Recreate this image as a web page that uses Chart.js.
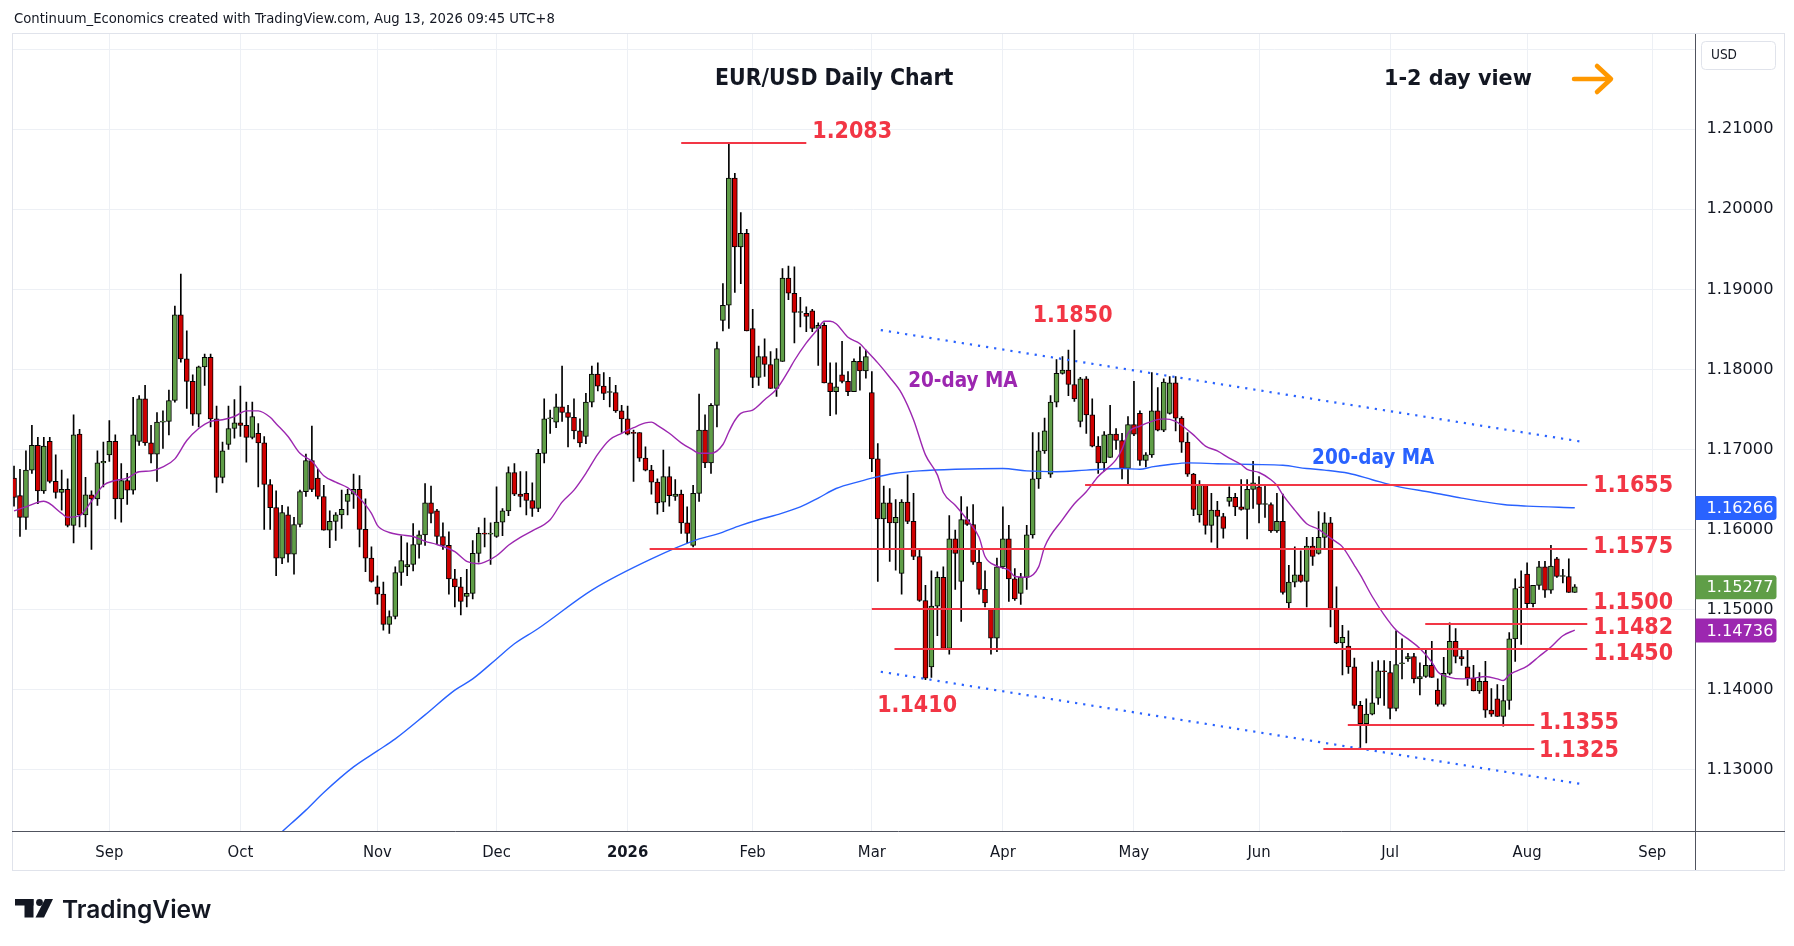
<!DOCTYPE html>
<html><head><meta charset="utf-8">
<script src="https://cdn.jsdelivr.net/npm/chart.js@4.4.1/dist/chart.umd.min.js"></script>
<style>html,body{margin:0;padding:0;background:#fff;overflow:hidden}#wrap{width:1794px;height:946px;position:relative}canvas{display:block}</style>
</head><body><div id="wrap"><canvas id="c" width="1794" height="946"></canvas></div>
<script>
// ---------- DATA ----------
const startDate = '2025-08-08';
const endDate = '2026-09-10';
const holidays = ['2025-12-25', '2026-01-01'];

const opens = [1.1664,1.1642,1.1615,1.1674,1.1705,1.1648,1.1710,1.1660,1.1646,1.1650,1.1605,1.1719,1.1618,1.1643,1.1638,1.1683,
1.1693,1.1710,1.1638,1.1661,1.1649,1.1710,1.1763,1.1708,1.1694,1.1734,1.1735,1.1761,1.1868,1.1813,1.1785,1.1744,1.1803,1.1815,1.1738,1.1665,1.1706,1.1726,
1.1733,1.1730,1.1715,1.1720,1.1708,1.1656,1.1627,1.1564,1.1618,1.1569,1.1606,1.1647,1.1686,1.1664,1.1641,1.1599,1.1610,1.1618,1.1635,1.1644,1.1650,1.1600,1.1564,
1.1528,1.1519,1.1481,1.1491,1.1546,1.1553,1.1556,1.1581,1.1593,1.1633,1.1623,1.1591,1.1580,1.1538,1.1528,1.1516,1.1520,1.1570,1.1595,1.1594,
1.1591,1.1609,1.1623,1.1671,1.1644,1.1645,1.1636,1.1626,1.1695,1.1738,1.1734,1.1753,1.1746,1.1740,1.1723,1.1716,1.1759,1.1794,1.1779,1.1771,1.1771,1.1748,
1.1738,1.1721,1.1721,1.1689,1.1674,1.1659,1.1634,1.1666,1.1641,1.1644,1.1608,1.1580,1.1645,1.1724,1.1683,1.1755,1.1861,1.1880,1.2039,1.1953,1.1970,
1.1851,1.1790,1.1816,1.1806,1.1776,1.1810,1.1914,1.1895,1.1871,1.1870,1.1873,1.1851,1.1855,1.1783,1.1772,1.1793,1.1785,1.1772,1.1810,1.1798,
1.1771,1.1688,1.1613,1.1633,1.1608,1.1545,1.1634,1.1610,1.1566,1.1511,1.1428,1.1504,1.1540,1.1451,1.1588,1.1535,1.1612,1.1606,1.1559,1.1525,1.1500,1.1464,
1.1553,1.1588,1.1538,1.1520,1.1540,1.1593,1.1663,1.1698,1.1669,1.1759,1.1795,1.1799,1.1781,1.1735,1.1788,1.1743,1.1704,1.1683,1.1690,1.1719,1.1711,1.1676,
1.1731,1.1745,1.1686,1.1693,1.1748,1.1724,1.1745,1.1783,1.1739,1.1709,1.1669,1.1618,1.1656,1.1605,1.1624,1.1616,1.1635,1.1640,1.1628,1.1625,1.1650,
1.1653,1.1631,1.1631,1.1598,1.1610,1.1508,1.1534,1.1543,1.1535,1.1579,1.1570,1.1590,1.1608,1.1501,1.1458,1.1454,1.1428,1.1380,1.1357,1.1369,1.1389,1.1423,
1.1421,1.1376,1.1432,1.1438,1.1441,1.1413,1.1416,1.1430,1.1399,1.1381,1.1420,1.1460,1.1441,1.1428,1.1414,1.1398,1.1410,1.1374,1.1388,1.1366,1.1386,1.1463,1.1528,
1.1544,1.1507,1.1530,1.1553,1.1524,1.1563,1.1541,1.1541,1.1521];
const highs = [1.1679,1.1675,1.1698,1.1730,1.1715,1.1715,1.1715,1.1693,1.1674,1.1663,1.1743,1.1725,1.1665,1.1648,1.1698,1.1709,
1.1736,1.1718,1.1682,1.1670,1.1765,1.1767,1.1780,1.1730,1.1746,1.1748,1.1774,1.1879,1.1919,1.1848,1.1793,1.1804,1.1819,1.1819,1.1754,1.1709,1.1754,1.1762,
1.1779,1.1759,1.1759,1.1732,1.1716,1.1662,1.1648,1.1630,1.1628,1.1615,1.1649,1.1694,1.1729,1.1675,1.1655,1.1623,1.1621,1.1649,1.1650,1.1669,1.1667,1.1638,1.1578,
1.1542,1.1534,1.1498,1.1553,1.1592,1.1583,1.1607,1.1598,1.1657,1.1654,1.1625,1.1608,1.1597,1.1550,1.1540,1.1550,1.1586,1.1602,1.1614,1.1608,
1.1653,1.1626,1.1678,1.1682,1.1672,1.1672,1.1658,1.1700,1.1763,1.1749,1.1769,1.1804,1.1755,1.1763,1.1738,1.1770,1.1804,1.1808,1.1796,1.1790,1.1780,1.1755,
1.1754,1.1724,1.1721,1.1703,1.1680,1.1663,1.1699,1.1678,1.1662,1.1649,1.1628,1.1655,1.1769,1.1743,1.1757,1.1834,1.1907,1.2083,1.2045,1.1996,1.1975,
1.1875,1.1829,1.1838,1.1822,1.1826,1.1926,1.1929,1.1928,1.1890,1.1878,1.1875,1.1858,1.1858,1.1808,1.1808,1.1835,1.1797,1.1813,1.1828,1.1824,
1.1797,1.1707,1.1654,1.1651,1.1637,1.1637,1.1668,1.1645,1.1574,1.1530,1.1548,1.1547,1.1553,1.1617,1.1599,1.1641,1.1628,1.1631,1.1574,1.1548,1.1500,1.1564,
1.1628,1.1605,1.1551,1.1545,1.1605,1.1721,1.1721,1.1739,1.1767,1.1812,1.1816,1.1824,1.1849,1.1790,1.1791,1.1763,1.1716,1.1722,1.1755,1.1726,1.1720,
1.1741,1.1785,1.1748,1.1696,1.1796,1.1777,1.1788,1.1791,1.1791,1.1741,1.1721,1.1670,1.1661,1.1656,1.1645,1.1635,1.1620,1.1653,1.1645,1.1662,1.1662,1.1685,
1.1666,1.1655,1.1633,1.1645,1.1644,1.1555,1.1578,1.1573,1.1590,1.1590,1.1622,1.1621,1.1615,1.1528,1.1480,1.1473,1.1439,1.1385,1.1388,1.1434,1.1436,1.1436,
1.1435,1.1473,1.1463,1.1445,1.1445,1.1433,1.1449,1.1460,1.1413,1.1440,1.1483,1.1476,1.1450,1.1449,1.1430,1.1421,1.1435,1.1401,1.1406,1.1405,1.1471,1.1538,1.1548,
1.1558,1.1530,1.1560,1.1560,1.1580,1.1565,1.1550,1.1563,1.1531];
const lows = [1.1629,1.1591,1.1600,1.1670,1.1632,1.1645,1.1658,1.1639,1.1624,1.1603,1.1583,1.1603,1.1603,1.1575,1.1630,1.1653,
1.1685,1.1613,1.1609,1.1631,1.1644,1.1705,1.1705,1.1683,1.1660,1.1701,1.1718,1.1759,1.1809,1.1751,1.1730,1.1728,1.1780,1.1728,1.1646,1.1658,1.1700,1.1714,
1.1716,1.1684,1.1713,1.1653,1.1600,1.1600,1.1542,1.1557,1.1559,1.1544,1.1603,1.1641,1.1647,1.1638,1.1599,1.1577,1.1586,1.1601,1.1618,1.1626,1.1578,1.1547,1.1534,
1.1506,1.1474,1.1470,1.1488,1.1530,1.1542,1.1548,1.1564,1.1580,1.1608,1.1581,1.1575,1.1519,1.1503,1.1493,1.1503,1.1513,1.1559,1.1578,1.1556,
1.1590,1.1592,1.1617,1.1642,1.1628,1.1618,1.1616,1.1622,1.1683,1.1720,1.1727,1.1735,1.1703,1.1713,1.1703,1.1707,1.1753,1.1773,1.1762,1.1753,1.1746,1.1721,
1.1718,1.1660,1.1685,1.1673,1.1644,1.1619,1.1622,1.1629,1.1636,1.1595,1.1583,1.1578,1.1635,1.1677,1.1670,1.1728,1.1848,1.1851,1.1896,1.1907,1.1848,
1.1777,1.1780,1.1791,1.1776,1.1766,1.1810,1.1887,1.1833,1.1853,1.1847,1.1847,1.1805,1.1783,1.1742,1.1744,1.1783,1.1767,1.1772,1.1774,1.1789,
1.1672,1.1535,1.1576,1.1560,1.1549,1.1519,1.1607,1.1562,1.1510,1.1412,1.1415,1.1467,1.1451,1.1444,1.1525,1.1485,1.1605,1.1556,1.1519,1.1503,1.1444,1.1447,
1.1551,1.1510,1.1511,1.1506,1.1525,1.1589,1.1651,1.1695,1.1665,1.1753,1.1794,1.1767,1.1760,1.1728,1.1720,1.1703,1.1670,1.1673,1.1690,1.1700,1.1663,
1.1656,1.1717,1.1680,1.1678,1.1690,1.1723,1.1722,1.1744,1.1723,1.1696,1.1666,1.1617,1.1609,1.1594,1.1584,1.1577,1.1589,1.1629,1.1617,1.1624,1.1588,1.1626,
1.1608,1.1615,1.1596,1.1596,1.1519,1.1501,1.1528,1.1534,1.1503,1.1555,1.1569,1.1576,1.1478,1.1457,1.1418,1.1420,1.1376,1.1325,1.1333,1.1368,1.1381,1.1380,
1.1363,1.1373,1.1413,1.1435,1.1408,1.1393,1.1415,1.1415,1.1379,1.1379,1.1418,1.1433,1.1430,1.1405,1.1398,1.1395,1.1365,1.1366,1.1366,1.1354,1.1375,1.1435,1.1456,
1.1500,1.1503,1.1525,1.1515,1.1520,1.1540,1.1533,1.1521,1.1521];
const closes = [1.1640,1.1615,1.1674,1.1705,1.1648,1.1704,1.1660,1.1646,1.1650,1.1605,1.1718,1.1618,1.1643,1.1638,1.1683,1.1685,
1.1710,1.1638,1.1661,1.1649,1.1718,1.1763,1.1708,1.1694,1.1734,1.1735,1.1761,1.1868,1.1813,1.1785,1.1744,1.1803,1.1815,1.1738,1.1665,1.1698,1.1726,1.1733,
1.1730,1.1715,1.1741,1.1708,1.1656,1.1627,1.1564,1.1621,1.1569,1.1606,1.1647,1.1686,1.1650,1.1641,1.1599,1.1610,1.1618,1.1625,1.1644,1.1650,1.1600,1.1564,1.1535,
1.1519,1.1481,1.1491,1.1546,1.1561,1.1556,1.1581,1.1593,1.1633,1.1620,1.1591,1.1580,1.1538,1.1528,1.1510,1.1520,1.1570,1.1595,1.1594,1.1595,
1.1609,1.1623,1.1671,1.1644,1.1641,1.1636,1.1626,1.1695,1.1738,1.1738,1.1753,1.1746,1.1740,1.1723,1.1708,1.1759,1.1794,1.1779,1.1770,1.1771,1.1748,1.1738,
1.1719,1.1720,1.1689,1.1674,1.1659,1.1633,1.1666,1.1642,1.1644,1.1608,1.1595,1.1645,1.1724,1.1683,1.1755,1.1826,1.1880,1.2039,1.1953,1.1970,1.1848,
1.1790,1.1816,1.1806,1.1776,1.1813,1.1914,1.1895,1.1871,1.1871,1.1866,1.1851,1.1855,1.1783,1.1772,1.1778,1.1785,1.1772,1.1810,1.1798,1.1816,
1.1688,1.1613,1.1633,1.1608,1.1615,1.1634,1.1610,1.1566,1.1511,1.1414,1.1504,1.1540,1.1451,1.1588,1.1570,1.1612,1.1606,1.1559,1.1525,1.1508,1.1464,1.1553,
1.1588,1.1538,1.1513,1.1540,1.1593,1.1663,1.1698,1.1723,1.1759,1.1795,1.1799,1.1781,1.1763,1.1788,1.1743,1.1704,1.1683,1.1718,1.1719,1.1711,1.1676,
1.1731,1.1719,1.1686,1.1693,1.1748,1.1724,1.1784,1.1783,1.1739,1.1709,1.1669,1.1625,1.1656,1.1605,1.1624,1.1616,1.1601,1.1640,1.1628,1.1625,1.1650,1.1658,
1.1631,1.1631,1.1598,1.1610,1.1521,1.1534,1.1543,1.1535,1.1579,1.1566,1.1590,1.1608,1.1501,1.1458,1.1465,1.1428,1.1380,1.1357,1.1369,1.1383,1.1423,1.1422,
1.1376,1.1431,1.1432,1.1441,1.1413,1.1416,1.1430,1.1415,1.1381,1.1420,1.1460,1.1441,1.1438,1.1414,1.1398,1.1410,1.1374,1.1369,1.1366,1.1386,1.1463,1.1526,1.1527,
1.1507,1.1530,1.1553,1.1524,1.1554,1.1541,1.1541,1.1521,1.1528];

// moving averages: [bar index, value]
const ma20Points = [[0,1.1623],[2,1.1628],[5,1.1635],[8,1.1620],[9,1.1615],[11,1.1617],[13,1.1635],[15,1.1655],[17,1.1661],[19,1.1664],[21,1.1672],[23,1.1673],
[25,1.1678],[27,1.1688],[29,1.1711],[31,1.1726],[33,1.1735],[35,1.1737],[37,1.1741],[39,1.1748],[41,1.1748],[43,1.1740],[44,1.1732],[46,1.1716],[48,1.1695],
[50,1.1685],[52,1.1667],[54,1.1659],[56,1.1652],[58,1.1639],[60,1.1620],[61,1.1605],[63,1.1596],[65,1.1593],[67,1.1591],[69,1.1585],[71,1.1581],[74,1.1572],
[76,1.1560],[78,1.1557],[79,1.1559],[81,1.1567],[83,1.1580],[85,1.1590],[87,1.1598],[90,1.1612],[92,1.1634],[94,1.1649],[96,1.1670],[98,1.1694],[100,1.1712],
[102,1.1720],[104,1.1727],[106,1.1733],[107,1.1734],[108,1.1730],[110,1.1720],[112,1.1708],[114,1.1699],[115,1.1695],[117,1.1695],[119,1.1706],[120,1.1722],
[121,1.1736],[122,1.1745],[124,1.1749],[126,1.1762],[128,1.1775],[130,1.1798],[131,1.1811],[133,1.1833],[135,1.1851],[136,1.1860],[137,1.1860],[138,1.1857],
[140,1.1840],[142,1.1832],[143,1.1824],[145,1.1808],[147,1.1790],[149,1.1770],[151,1.1737],[153,1.1693],[155,1.1668],[156,1.1646],[158,1.1630],[160,1.1612],
[162,1.1590],[163,1.1566],[165,1.1554],[167,1.1549],[168,1.1541],[170,1.1540],[172,1.1553],[173,1.1578],[176,1.1612],[178,1.1632],[180,1.1647],[182,1.1666],
[185,1.1687],[186,1.1700],[187,1.1720],[189,1.1729],[191,1.1735],[193,1.1738],[195,1.1735],[196,1.1730],[198,1.1718],[200,1.1704],[202,1.1698],[204,1.1689],
[206,1.1681],[207,1.1675],[209,1.1671],[211,1.1662],[212,1.1655],[213,1.1643],[215,1.1624],[217,1.1607],[219,1.1600],[221,1.1589],[222,1.1584],[223,1.1578],
[225,1.1555],[226,1.1543],[228,1.1516],[230,1.1493],[232,1.1474],[234,1.1463],[236,1.1451],[238,1.1434],[239,1.1422],[241,1.1415],[243,1.1413],[245,1.1414],
[247,1.1416],[249,1.1413],[250,1.1411],[251,1.1418],[252,1.1422],[254,1.1429],[256,1.1441],[258,1.1453],[260,1.1467],[262,1.1474]];
const ma200Points = [[45,1.1222],[49,1.1249],[52,1.1271],[57,1.1303],[61,1.1323],[64,1.1338],[69,1.1368],[74,1.1399],[77,1.1413],[81,1.1438],[84,1.1457],
[88,1.1476],[97,1.1524],[107,1.1563],[115,1.1588],[118,1.1594],[122,1.1605],[125,1.1612],[128,1.1618],[132,1.1628],[135,1.1639],[138,1.1651],[142,1.1660],
[144,1.1664],[148,1.1670],[152,1.1673],[158,1.1675],[166,1.1676],[170,1.1673],[175,1.1672],[180,1.1674],[186,1.1676],[189,1.1675],[191,1.1678],[194,1.1681],
[197,1.1683],[202,1.1682],[208,1.1681],[213,1.1680],[217,1.1676],[220,1.1674],[224,1.1670],[228,1.1662],[232,1.1654],[238,1.1646],[243,1.1639],[250,1.1631],
[254,1.1629],[262,1.1627]];

// channel lines: [bar index, price]
const channelUpper = [[145.5,1.1849],[263.6,1.1709]];
const channelLower = [[145.5,1.1422],[263.6,1.1281]];

// key levels (price, from bar, to bar)
const levelPrices = [1.2083,1.1655,1.1575,1.1500,1.1482,1.1450,1.1355,1.1325];
const levelFrom   = [112,179.8,106.7,144,236.9,147.8,223.9,219.8];
const levelTo     = [133,264.1,264.1,264.1,264.1,264.1,255.2,255.2];
// level labels: text, bar index, baseline price
const labelTexts  = ['1.2083','1.1850','1.1410','1.1655','1.1575','1.1500','1.1482','1.1450','1.1355','1.1325'];
const labelBars   = [134.0,171.0,144.9,265.1,265.1,265.1,265.1,265.1,256.0,256.0];
const labelPrices = [1.20895,1.18589,1.13714,1.16462,1.15704,1.15004,1.14688,1.14363,1.13508,1.13154];

// axis ticks
const monthTickDates  = ['2025-09-01','2025-10-01','2025-11-03','2025-12-01','2026-01-02','2026-02-02','2026-03-02','2026-04-01','2026-05-01','2026-06-01','2026-07-01','2026-08-03','2026-09-01'];
const monthTickLabels = ['Sep','Oct','Nov','Dec','2026','Feb','Mar','Apr','May','Jun','Jul','Aug','Sep'];
const priceTicks = [1.13,1.14,1.15,1.16,1.17,1.18,1.19,1.20,1.21,1.22];
// price tags on the axis
const tagValues = [1.16266,1.15277,1.14736];
const tagColors = ['#2962ff','#5f9e47','#9c27b0'];

// ---------- BUILD ----------
const dates = [];
(function(){
  const d = new Date(startDate + 'T00:00:00Z'), end = new Date(endDate + 'T00:00:00Z');
  while (d <= end) {
    const s = d.toISOString().slice(0,10), wd = d.getUTCDay();
    if (wd !== 0 && wd !== 6 && holidays.indexOf(s) < 0) dates.push(s);
    d.setUTCDate(d.getUTCDate() + 1);
  }
})();
const monthTickIdx = monthTickDates.map(s => dates.indexOf(s));

const GREEN = '#5f9e47', RED = '#d00000';
const wickData = lows.map((l,i) => ({x:i, y:[l, highs[i]]}));
const bodyData = opens.map((o,i) => ({x:i, y:[o, closes[i]]}));
const bodyColors = opens.map((o,i) => closes[i] >= o ? GREEN : RED);

const COND = '"DejaVu Sans Condensed","DejaVu Sans",sans-serif';
const WIDE = '"DejaVu Sans",sans-serif';

const overlay = {
  id: 'overlay',
  beforeDraw(chart) {
    const c = chart.ctx;
    c.save(); c.fillStyle = '#fff'; c.fillRect(0,0,chart.width,chart.height); c.restore();
  },
  afterDatasetsDraw(chart) {
    const c = chart.ctx, xs = chart.scales.x, ys = chart.scales.y;
    c.save();
    c.strokeStyle = '#f23645'; c.lineWidth = 2;
    levelPrices.forEach((p,k) => {
      const y = Math.round(ys.getPixelForValue(p)) ;
      c.beginPath(); c.moveTo(xs.getPixelForValue(levelFrom[k]), y); c.lineTo(xs.getPixelForValue(levelTo[k]), y); c.stroke();
    });
    c.fillStyle = '#f23645'; c.font = 'bold 23px ' + COND; c.textBaseline = 'alphabetic'; c.textAlign = 'left';
    labelTexts.forEach((t,k) => c.fillText(t, xs.getPixelForValue(labelBars[k]), ys.getPixelForValue(labelPrices[k])));
    c.font = 'bold 20.5px ' + COND;
    c.fillStyle = '#9c27b0'; c.fillText('20-day MA', xs.getPixelForValue(150.1), ys.getPixelForValue(1.17783));
    c.fillStyle = '#2962ff'; c.fillText('200-day MA', xs.getPixelForValue(217.9), ys.getPixelForValue(1.16816));
    c.restore();
  },
  afterDraw(chart) {
    const c = chart.ctx, ys = chart.scales.y, a = chart.chartArea;
    c.save();
    // frame
    c.strokeStyle = '#e0e3eb'; c.lineWidth = 1;
    c.strokeRect(12.5, 33.5, 1772, 837);
    // axis lines
    c.strokeStyle = '#50535e';
    c.beginPath(); c.moveTo(12, a.bottom + 0.5); c.lineTo(1785, a.bottom + 0.5); c.stroke();
    c.beginPath(); c.moveTo(Math.round(a.right) + 0.5, 34); c.lineTo(Math.round(a.right) + 0.5, 870); c.stroke();
    // price tags
    c.font = '16.2px ' + WIDE; c.textBaseline = 'middle'; c.textAlign = 'left';
    tagValues.forEach((v,k) => {
      const y = ys.getPixelForValue(v);
      c.fillStyle = tagColors[k];
      c.beginPath(); c.roundRect(a.right + 1, y - 12, 81, 24, [0,3,3,0]); c.fill();
      c.fillStyle = '#fff'; c.fillText(v.toFixed(5), a.right + 12, y + 1);
    });
    // USD box
    c.strokeStyle = '#e0e3eb'; c.fillStyle = '#fff';
    c.beginPath(); c.roundRect(1701.5, 41.5, 74, 28, 4); c.fill(); c.stroke();
    c.fillStyle = '#131722'; c.font = '13.5px ' + COND; c.fillText('USD', 1711, 55.5);
    // header
    c.font = '14.7px ' + COND; c.fillStyle = '#131722'; c.fillText('Continuum_Economics created with TradingView.com, Aug 13, 2026 09:45 UTC+8', 14, 19.5);
    // title
    c.font = 'bold 22.8px ' + COND; c.fillText('EUR/USD Daily Chart', 715, 79);
    c.font = 'bold 20.8px ' + WIDE; c.fillText('1-2 day view', 1384, 80);
    // arrow
    c.strokeStyle = '#ff9800'; c.lineWidth = 4.5; c.lineCap = 'round'; c.lineJoin = 'round';
    c.beginPath(); c.moveTo(1574, 79); c.lineTo(1609, 79); c.stroke();
    c.beginPath(); c.moveTo(1597, 66); c.lineTo(1611, 79); c.lineTo(1597, 92); c.stroke();
    // TradingView logo
    c.fillStyle = '#131722';
    c.fillRect(15, 899, 18.5, 6.5);
    c.fillRect(24.5, 899, 9, 18.5);
    c.beginPath(); c.arc(39.5, 902.5, 3.4, 0, Math.PI*2); c.fill();
    c.beginPath(); c.moveTo(45, 899); c.lineTo(53, 899); c.lineTo(44, 917.5); c.lineTo(35.5, 917.5); c.closePath(); c.fill();
    c.font = '600 24.5px Inter,"Noto Sans",sans-serif'; c.textBaseline = 'alphabetic';
    c.fillText('TradingView', 62, 917.5);
    c.restore();
  }
};

new Chart(document.getElementById('c'), {
  type: 'bar',
  data: {
    datasets: [
      { type:'line', label:'20-day MA', data: ma20Points.map(p=>({x:p[0],y:p[1]})), borderColor:'#9c27b0', borderWidth:1.4, pointRadius:0, cubicInterpolationMode:'monotone', order:0 },
      { type:'line', label:'200-day MA', data: ma200Points.map(p=>({x:p[0],y:p[1]})), borderColor:'#2962ff', borderWidth:1.4, pointRadius:0, cubicInterpolationMode:'monotone', order:0 },
      { type:'line', label:'upper', data: channelUpper.map(p=>({x:p[0],y:p[1]})), borderColor:'#2962ff', borderWidth:2.2, borderDash:[2.2,6], pointRadius:0, order:0 },
      { type:'line', label:'lower', data: channelLower.map(p=>({x:p[0],y:p[1]})), borderColor:'#2962ff', borderWidth:2.2, borderDash:[2.2,6], pointRadius:0, order:0 },
      { label:'bodies', data: bodyData, backgroundColor: bodyColors, borderColor:'#000', borderWidth:1, borderSkipped:false, barThickness:5, minBarLength:1, grouped:false, order:1 },
      { label:'wicks', data: wickData, backgroundColor:'#000', borderWidth:0, barThickness:1, grouped:false, order:2 }
    ]
  },
  options: {
    responsive:false, animation:false, devicePixelRatio:1,
    layout: { padding: { left:12, top:34, right:9, bottom:76 } },
    plugins: { legend:{display:false}, tooltip:{enabled:false} },
    scales: {
      x: {
        type:'linear', min:-0.34, max:282.1, offset:false,
        grid:{ color:'#edf0f5', drawTicks:false, offset:false },
        border:{ display:false },
        afterBuildTicks: s => { s.ticks = monthTickIdx.map(v=>({value:v})); },
        afterFit: s => { s.height = 39; },
        ticks:{ padding:12, color:'#131722', maxRotation:0, autoSkip:false,
          font: ctx => ({ family: COND, size:16.5, weight: (ctx.index === 4 ? 'bold' : 'normal') }),
          callback: (v,i) => monthTickLabels[i] }
      },
      y: {
        type:'linear', position:'right', min:1.12229, max:1.22191, beginAtZero:false,
        grid:{ color:'#edf0f5', drawTicks:false },
        border:{ display:false },
        afterBuildTicks: s => { s.ticks = priceTicks.map(v=>({value:v})); },
        afterFit: s => { s.width = 90.5; },
        ticks:{ padding:12, color:'#131722', font:{ family: WIDE, size:16.2 },
          callback: v => (Math.abs(v - 1.22) < 1e-6 ? '' : v.toFixed(5)) }
      }
    }
  },
  plugins: [overlay]
});
</script>
</body></html>
